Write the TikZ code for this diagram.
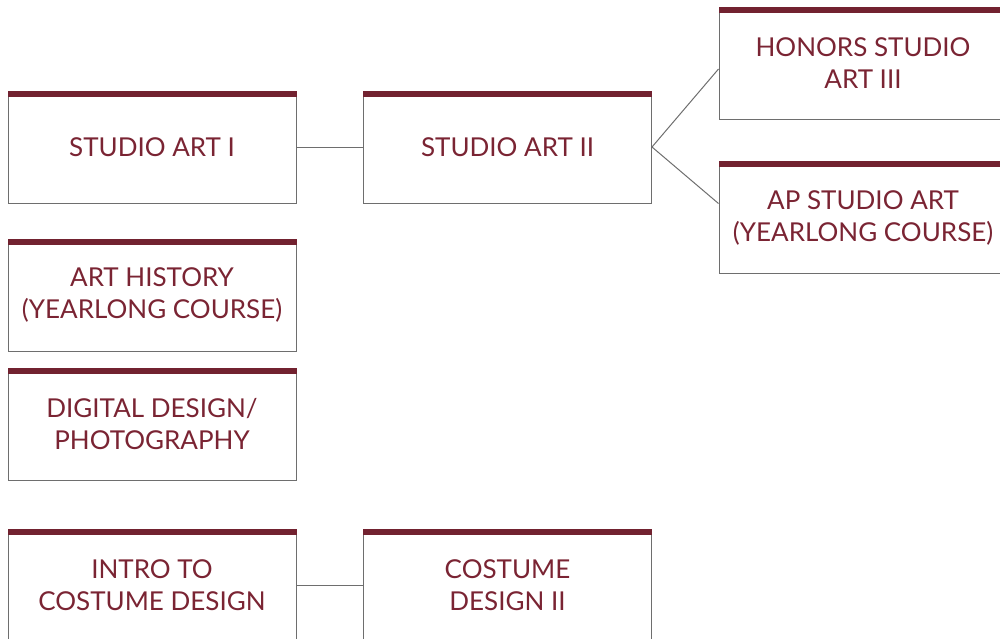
\documentclass[tikz,border=0pt]{standalone}
\usepackage{fontspec}
\setmainfont{Lato}
\usepackage{tikz}
\colorlet{courseText}{black!25!red!55!black}
\definecolor{courseText}{HTML}{7A2433}
\definecolor{courseBar}{HTML}{722230}
\definecolor{courseEdge}{HTML}{6E6E6E}

\begin{document}
\begin{tikzpicture}[
  x=0.5pt,
  y=-0.5pt,
  course/.style={
    draw=courseEdge,
    line width=0.5pt,
    minimum width=144pt,
    minimum height=56pt,
    align=center,
    text=courseText,
    font=\fontsize{13}{16}\selectfont,
  },
  link/.style={
    draw=courseEdge,
    line width=0.5pt,
  }
]
\useasboundingbox (0,0) rectangle (1000,638);
\node[course] (sa1) at (152,147) {STUDIO ART I};
\node[course] (sa2) at (507.5,147) {STUDIO ART II};
\node[course] (hon) at (863,63) {HONORS STUDIO\\ART III};
\node[course] (ap) at (863,217.5) {AP STUDIO ART\\(YEARLONG COURSE)};
\node[course] (hist) at (152,295) {ART HISTORY\\(YEARLONG COURSE)};
\node[course] (dig) at (152,424) {DIGITAL DESIGN/\\PHOTOGRAPHY};
\node[course] (cos1) at (152,585) {INTRO TO\\COSTUME DESIGN};
\node[course] (cos2) at (507.5,585) {COSTUME\\DESIGN II};
% maroon bars on top
\foreach \c in {sa1,sa2,hon,ap,hist,dig,cos1,cos2}
  \fill[courseBar] (\c.north west) rectangle ([yshift=-3pt]\c.north east);
\draw[link] (sa1) -- (sa2);
\draw[link] (sa2.east) -- ([yshift=-3pt]hon.west);
\draw[link] (sa2.east) -- ([yshift=7pt]ap.west);
\draw[link] (cos1) -- (cos2);
\end{tikzpicture}
\end{document}
